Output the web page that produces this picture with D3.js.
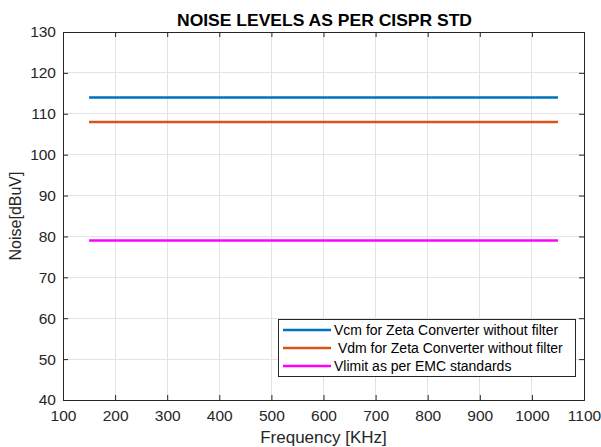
<!DOCTYPE html>
<html><head><meta charset="utf-8">
<script src="https://cdn.jsdelivr.net/npm/d3@7"></script>
<style>body{margin:0;background:#fff}svg{display:block}text{font-family:"Liberation Sans",Arial,sans-serif}</style>
</head><body>
<script>
const freq = [150, 1050];
const vcm = [114, 114];
const vdm = [108, 108];
const vlimit = [79, 79];
const seriesNames = ["Vcm for Zeta Converter without filter", " Vdm for Zeta Converter without filter", "Vlimit as per EMC standards"];
const seriesColors = ["#0072BD", "#D95319", "#FF00FF"];
const xTicks = [100,200,300,400,500,600,700,800,900,1000,1100];
const yTicks = [40,50,60,70,80,90,100,110,120,130];

const W = 601, H = 447;
const m = {l:63, r:17, t:32, b:47};
const svg = d3.select("body").append("svg").attr("width", W).attr("height", H);
const x = d3.scaleLinear().domain([100,1100]).range([m.l, W-m.r]);
const y = d3.scaleLinear().domain([40,130]).range([H-m.b, m.t]);

// grid
svg.append("g").selectAll("line").data(xTicks).join("line")
  .attr("x1", d=>x(d)).attr("x2", d=>x(d)).attr("y1", m.t).attr("y2", H-m.b)
  .attr("stroke", "#e3e3e3").attr("stroke-width", 1).attr("shape-rendering","crispEdges");
svg.append("g").selectAll("line").data(yTicks).join("line")
  .attr("y1", d=>y(d)).attr("y2", d=>y(d)).attr("x1", m.l).attr("x2", W-m.r)
  .attr("stroke", "#e3e3e3").attr("stroke-width", 1).attr("shape-rendering","crispEdges");

// lines
const data = [vcm, vdm, vlimit];
const line = d3.line().x((d,i)=>x(freq[i])).y(d=>y(d));
data.forEach((s,i)=>{
  svg.append("path").datum(s).attr("d", line).attr("fill","none")
    .attr("stroke", seriesColors[i]).attr("stroke-width", 2.5);
});

// axes
const ax = "#262626";
const gxb = svg.append("g").attr("transform", `translate(0,${H-m.b})`)
  .call(d3.axisBottom(x).tickValues(xTicks).tickSize(-5).tickPadding(10).tickFormat(d3.format("d")));
const gxt = svg.append("g").attr("transform", `translate(0,${m.t})`)
  .call(d3.axisTop(x).tickValues(xTicks).tickSize(-5).tickFormat(""));
const gyl = svg.append("g").attr("transform", `translate(${m.l},0)`)
  .call(d3.axisLeft(y).tickValues(yTicks).tickSize(-5).tickPadding(7).tickFormat(d3.format("d")));
const gyr = svg.append("g").attr("transform", `translate(${W-m.r},0)`)
  .call(d3.axisRight(y).tickValues(yTicks).tickSize(-5).tickFormat(""));
[gxb,gxt,gyl,gyr].forEach(g=>{
  g.select(".domain").attr("stroke", ax);
  g.selectAll(".tick line").attr("stroke", ax);
  g.selectAll("text").attr("fill", ax).attr("font-size", 15.5)
   .attr("font-family", '"Liberation Sans",Arial,sans-serif');
});

// title and labels
svg.append("text").attr("x", 324.5).attr("y", 25.5).attr("text-anchor","middle")
  .attr("font-size", 16.5).attr("font-weight","bold").attr("fill","#000")
  .attr("textLength", 295).attr("lengthAdjust","spacingAndGlyphs")
  .text("NOISE LEVELS AS PER CISPR STD");
svg.append("text").attr("x", (m.l + W - m.r)/2).attr("y", 443).attr("text-anchor","middle")
  .attr("font-size", 17).attr("fill", ax).text("Frequency [KHz]");
svg.append("text").attr("transform", `translate(21,${(m.t+H-m.b)/2}) rotate(-90)`).attr("text-anchor","middle")
  .attr("font-size", 16).attr("fill", ax).text("Noise[dBuV]");

// legend
const lg = svg.append("g");
lg.append("rect").attr("x", 278.5).attr("y", 319.5).attr("width", 297).attr("height", 57)
  .attr("fill","#fff").attr("stroke","#262626").attr("stroke-width",1);
seriesNames.forEach((n,i)=>{
  const yy = 330 + i*18;
  lg.append("line").attr("x1", 283).attr("x2", 331).attr("y1", yy).attr("y2", yy)
    .attr("stroke", seriesColors[i]).attr("stroke-width", 2.5);
  lg.append("text").attr("x", 334).attr("y", yy+5).attr("font-size", 14).attr("fill","#000")
    .style("white-space","pre").text(n);
});
</script>
</body></html>
